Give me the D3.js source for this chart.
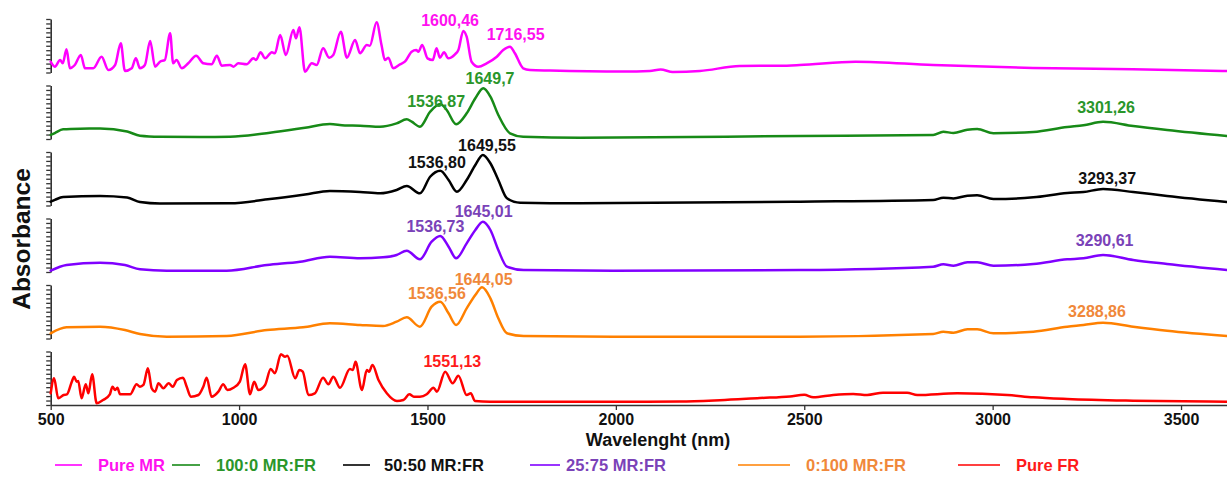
<!DOCTYPE html>
<html>
<head>
<meta charset="utf-8">
<script src="https://cdn.jsdelivr.net/npm/d3@7"></script>
<style>
  html, body { margin: 0; padding: 0; background: #fff; }
  svg { display: block; font-family: "Liberation Sans", Arial, sans-serif; }
</style>
</head>
<body>
<svg id="chart" width="1227" height="481"></svg>
<script>
// ---------------- DATA ----------------
const seriesNames = ["Pure MR", "100:0 MR:FR", "50:50 MR:FR", "25:75 MR:FR", "0:100 MR:FR", "Pure FR"];
const xTicks = [500, 1000, 1500, 2000, 2500, 3000, 3500];

// [wavelength, relative absorbance (0-100 within each stacked panel)]
const pureMR = [
  [500,20.2],[511,10.8],[525,23.4],[532,17.2],[542,43.4],[551,7.9],[564,14.0],[580,32.7],[591,7.9],[613,7.9],
  [635,29.5],[653,4.7],[671,14.0],[686,54.6],[697,2.8],[715,7.9],[726,26.5],[737,7.9],[750,14.0],[764,58.9],
  [777,10.8],[790,20.2],[803,23.4],[817,73.3],[825,17.2],[834,23.4],[848,7.9],[865,17.2],[886,31.4],[905,17.2],
  [927,15.3],[941,31.4],[954,12.7],[976,14.0],[985,10.8],[998,17.2],[1020,15.3],[1038,26.5],[1045,23.4],[1057,37.8],
  [1069,26.5],[1087,37.8],[1095,35.9],[1109,70.1],[1124,32.7],[1144,79.4],[1151,63.9],[1160,84.7],[1175,1.5],[1193,17.2],
  [1206,14.0],[1223,45.2],[1239,27.7],[1250,32.7],[1270,76.3],[1286,27.7],[1308,60.7],[1321,35.9],[1339,51.4],[1347,50.1],
  [1365,93.8],[1378,51.4],[1387,23.4],[1396,27.7],[1409,7.9],[1427,15.3],[1440,20.2],[1458,38.9],[1470,42.1],[1476,38.9],
  [1486,51.4],[1500,26.5],[1514,23.4],[1524,45.2],[1533,27.7],[1544,37.8],[1555,26.5],[1573,34.0],[1582,42.1],[1595,77.6],
  [1604,66.9],[1617,20.2],[1635,10.8],[1657,17.2],[1684,29.5],[1701,42.1],[1719,48.2],[1732,35.9],[1754,7.9],[1772,4.7],
  [1825,3.7],[2020,1.9],[2090,3.0],[2119,5.6],[2151,0.9],[2223,2.8],[2329,12.1],[2435,12.7],[2488,14.0],[2636,20.2],
  [2842,14.0],[3107,8.4],[3372,6.0],[3622,2.8]
];
const mr100 = [
  [500,7.5],[511,11.2],[533,18.1],[578,19.3],[631,19.6],[703,14.0],[737,6.2],[790,4.3],[896,3.7],[976,4.3],
  [1082,11.8],[1175,21.1],[1241,28.0],[1281,25.2],[1321,24.9],[1374,23.0],[1418,29.3],[1445,36.8],[1458,32.3],[1480,23.0],
  [1507,51.0],[1534,65.4],[1551,54.2],[1576,27.5],[1604,48.0],[1627,76.1],[1648,94.8],[1667,79.1],[1688,44.9],[1719,10.7],
  [1754,4.3],[1905,2.4],[2489,5.6],[2842,7.5],[2869,13.6],[2896,11.2],[2933,17.4],[2959,18.7],[3002,10.7],[3108,13.1],
  [3198,22.4],[3241,25.6],[3293,32.3],[3373,24.3],[3463,16.8],[3622,5.6]
];
const mr50 = [
  [500,7.1],[511,10.5],[533,15.9],[631,17.8],[703,15.0],[737,6.5],[790,3.7],[976,4.1],[1082,12.1],[1175,20.6],
  [1241,27.1],[1321,25.2],[1374,22.8],[1418,29.0],[1445,36.4],[1480,22.8],[1507,53.8],[1534,65.0],[1556,47.7],[1578,25.8],
  [1604,47.7],[1627,75.7],[1647,94.4],[1667,78.9],[1688,47.7],[1711,13.5],[1746,5.2],[1905,4.1],[2489,7.1],[2842,10.3],
  [2869,14.6],[2896,13.1],[2933,18.3],[2959,19.1],[3002,12.1],[3108,15.3],[3198,23.4],[3241,25.2],[3293,30.8],[3373,25.2],
  [3463,17.8],[3622,6.5]
];
const mr25 = [
  [500,2.4],[542,13.1],[631,17.4],[697,13.1],[737,5.0],[808,2.4],[967,2.4],[1074,13.1],[1162,19.3],[1241,28.6],
  [1321,25.6],[1382,27.5],[1418,31.8],[1445,39.8],[1480,23.7],[1511,56.6],[1534,67.3],[1556,47.3],[1576,25.6],[1604,53.6],
  [1627,78.5],[1647,94.0],[1667,78.5],[1688,41.1],[1711,9.9],[1755,3.7],[1993,2.4],[2489,3.7],[2842,9.9],[2869,14.4],
  [2896,11.8],[2933,18.1],[2959,18.1],[3002,11.8],[3108,15.0],[3198,23.7],[3241,25.6],[3293,31.8],[3373,22.4],[3463,15.0],
  [3622,3.7]
];
const mr0 = [
  [500,9.7],[542,20.9],[631,22.1],[697,15.9],[737,8.4],[808,3.4],[967,4.7],[1074,15.9],[1170,20.9],[1241,28.4],
  [1321,25.2],[1382,23.4],[1418,31.4],[1445,39.6],[1480,22.1],[1511,59.4],[1534,68.8],[1556,47.1],[1576,25.2],[1604,56.4],
  [1627,81.3],[1645,95.7],[1667,75.1],[1688,37.8],[1711,9.7],[1755,4.7],[1993,3.4],[2489,3.4],[2842,8.4],[2869,12.7],
  [2896,10.8],[2933,17.2],[2959,17.2],[3002,9.7],[3108,12.7],[3198,22.1],[3241,25.2],[3293,29.5],[3373,22.1],[3463,14.6],
  [3622,4.7]
];
const pureFR = [
  [500,21.9],[509,49.9],[520,12.5],[534,18.7],[543,20.0],[556,43.6],[562,52.9],[569,43.6],[573,44.9],[582,12.5],
  [593,38.7],[600,21.9],[610,57.4],[622,3.2],[639,9.3],[657,20.0],[664,34.2],[671,28.0],[677,32.3],[684,20.0],
  [711,20.0],[728,38.7],[737,34.2],[746,37.4],[758,68.6],[768,31.2],[777,24.9],[786,40.6],[799,31.2],[813,40.6],
  [824,34.2],[835,46.7],[851,51.0],[861,34.2],[872,15.5],[892,18.7],[905,34.2],[914,51.0],[927,15.5],[945,24.9],
  [958,38.7],[969,28.0],[985,32.3],[1002,43.6],[1016,76.1],[1029,20.0],[1040,43.6],[1051,28.0],[1069,37.4],[1084,67.3],
  [1095,59.3],[1111,94.8],[1122,90.3],[1128,92.1],[1149,49.9],[1160,65.4],[1169,62.3],[1184,18.7],[1201,21.9],[1223,51.0],
  [1237,38.7],[1250,52.9],[1268,32.3],[1294,67.3],[1302,65.4],[1309,80.9],[1326,28.0],[1339,65.4],[1345,62.3],[1354,74.8],
  [1370,46.7],[1392,21.9],[1419,7.5],[1436,9.3],[1452,20.0],[1464,15.5],[1480,15.5],[1498,20.0],[1516,32.3],[1525,24.9],
  [1547,62.3],[1567,40.6],[1582,54.8],[1604,18.7],[1615,21.9],[1626,7.5],[1666,6.2],[2019,6.2],[2170,6.5],[2276,9.0],
  [2382,13.0],[2462,16.0],[2500,19.0],[2524,14.4],[2577,18.7],[2630,20.6],[2667,18.7],[2709,23.0],[2773,23.0],[2800,18.7],
  [2906,21.9],[3039,18.7],[3108,14.4],[3198,11.2],[3373,8.0],[3622,6.2]
];
const spectra = [pureMR, mr100, mr50, mr25, mr0, pureFR];

// peak annotations: [panel index, text, wavelength, relative height]
const peakLabels = [
  [0, "1600,46", 1560, 86.9], [0, "1716,55", 1734, 60.7],
  [1, "1536,87", 1523, 60.7], [1, "1649,7", 1666, 101.9], [1, "3301,26", 3301, 48.6],
  [2, "1536,80", 1525, 70.1], [2, "1649,55", 1658, 102.8], [2, "3293,37", 3304, 40.2],
  [3, "1536,73", 1521, 75.7], [3, "1645,01", 1649, 103.7], [3, "3290,61", 3297, 47.7],
  [4, "1536,56", 1525, 72.9], [4, "1644,05", 1649, 100.9], [4, "3288,86", 3277, 41.1],
  [5, "1551,13", 1566, 71.0]
];

// ---------------- STYLE / LAYOUT ----------------
const lineColors  = ["#ff00ff", "#178a17", "#000000", "#8000ff", "#ff8000", "#ff0000"];
const labelColors = ["#ff10f0", "#2a962a", "#111111", "#7a42b8", "#f0883a", "#ff1a1a"];
const W = 1227, H = 481;
const margin = { left: 50.7, right: 0, top: 19, bottom: 76 };
const plotBottom = H - margin.bottom;   // 405
const nPanels = 6, gap = 13;
const panelH = ((plotBottom - margin.top) - gap * (nPanels - 1)) / nPanels;

const svg = d3.select("#chart");

const x = d3.scaleLinear().domain([500, 3622]).range([margin.left, W - margin.right]);

const panelScales = d3.range(nPanels).map(i => {
  const bottom = margin.top + i * (panelH + gap) + panelH;
  return d3.scaleLinear().domain([0, 100]).range([bottom, bottom - panelH]);
});

svg.append("defs").append("clipPath").attr("id", "clipX")
  .append("rect").attr("x", margin.left - 4).attr("y", 0).attr("width", W - margin.left + 4).attr("height", H);

// panel y axes (unlabelled, with minor ticks)
const yTickVals = d3.range(0, 100.001, 100 / 12);
panelScales.forEach((y) => {
  const g = svg.append("g").attr("transform", `translate(${margin.left},0)`)
    .call(d3.axisLeft(y).tickValues(yTickVals).tickFormat("").tickSize(4.5).tickSizeOuter(0));
  g.select(".domain").attr("stroke", "#333").attr("stroke-width", 1.6);
  g.selectAll(".tick line").attr("stroke", "#333").attr("stroke-width", 1.3);
});

// x axis
const gx = svg.append("g").attr("transform", `translate(0,${plotBottom})`)
  .call(d3.axisBottom(x).tickValues(xTicks).tickFormat(d3.format("d")).tickSize(5).tickSizeOuter(0).tickPadding(4));
gx.select(".domain").attr("stroke", "#333").attr("stroke-width", 1.6);
gx.selectAll(".tick line").attr("stroke", "#333").attr("stroke-width", 1.3);
gx.selectAll(".tick text").attr("font-size", 16).attr("font-weight", "bold").attr("fill", "#111")
  .attr("font-family", "'Liberation Sans', Arial, sans-serif");

// spectra
const lines = svg.append("g").attr("clip-path", "url(#clipX)");
spectra.forEach((data, i) => {
  const y = panelScales[i];
  const line = d3.line().x(d => x(d[0])).y(d => y(d[1])).curve(d3.curveMonotoneX);
  lines.append("path").datum(data).attr("d", line)
    .attr("fill", "none").attr("stroke", lineColors[i]).attr("stroke-width", 2.5)
    .attr("stroke-linejoin", "round").attr("stroke-linecap", "round");
});

// peak labels
svg.append("g").selectAll("text").data(peakLabels).join("text")
  .attr("x", d => x(d[2])).attr("y", d => panelScales[d[0]](d[3]))
  .attr("text-anchor", "middle").attr("font-size", 16).attr("font-weight", "bold")
  .attr("fill", d => labelColors[d[0]]).text(d => d[1]);

// axis titles
svg.append("text").attr("x", 658).attr("y", 446)
  .attr("text-anchor", "middle").attr("font-size", 18).attr("font-weight", "bold").attr("fill", "#111")
  .text("Wavelenght (nm)");
svg.append("text").attr("transform", `translate(30,${(margin.top + plotBottom) / 2 + 27}) rotate(-90)`)
  .attr("text-anchor", "middle").attr("font-size", 24.5).attr("font-weight", "bold").attr("fill", "#111")
  .text("Absorbance");

// legend
const legendLayout = [[55, 82, 98], [172, 200, 216], [343, 370, 384], [530, 560, 566], [738, 790, 806], [958, 1000, 1016]];
const legendY = 465;
const lg = svg.append("g");
seriesNames.forEach((name, i) => {
  const [l1, l2, tx] = legendLayout[i];
  lg.append("line").attr("x1", l1).attr("x2", l2).attr("y1", legendY).attr("y2", legendY)
    .attr("stroke", lineColors[i]).attr("stroke-width", 1.6);
  lg.append("text").attr("x", tx).attr("y", legendY + 6).attr("font-size", 16.5).attr("font-weight", "bold")
    .attr("fill", labelColors[i]).text(name);
});
</script>
</body>
</html>
